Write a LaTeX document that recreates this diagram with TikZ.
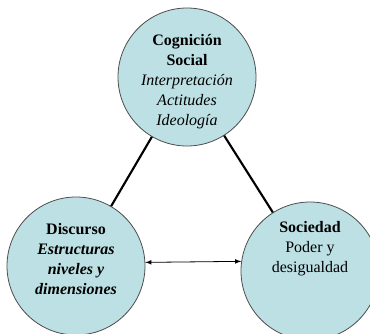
\documentclass[tikz,border=0pt]{standalone}
\usepackage{fontspec}
\setmainfont{Liberation Serif}
\usepackage{tikz}
\usepackage{color}

\definecolor{circfill}{RGB}{188,224,227}

\begin{document}
\begin{tikzpicture}[x=0.75pt,y=-0.75pt,>=latex,
  circ/.style={circle,draw=black!70,line width=0.6pt,fill=circfill,minimum size=103.5pt,inner sep=0pt},
  txt/.style={align=center,font=\fontsize{12pt}{15pt}\selectfont}]
\useasboundingbox (0,0) rectangle (370,333);
\clip (0,0) rectangle (370,333);
\node[circ] (cog) at (187,77) {};
\node[circ] (disc) at (76,266) {};
\node[circ] (soc) at (310,271) {};
\draw[line width=1.6pt] (cog)--(disc);
\draw[line width=1.6pt] (cog)--(soc);
\draw[<->,line width=0.6pt] (disc.3)--(soc.172.5);
\node[txt] (cogtxt) at (187,82) {\textbf{Cognición}\\\textbf{Social}\\\textit{Interpretación}\\\textit{Actitudes}\\\textit{Ideología}};
\node[txt] (disctxt) at (76,259) {\textbf{Discurso}\\\textbf{\textit{Estructuras}}\\\textbf{\textit{niveles y}}\\\textbf{\textit{dimensiones}}};
\node[txt] (soctxt) at (310,249) {\textbf{Sociedad}\\Poder y\\desigualdad};
\end{tikzpicture}
\end{document}
